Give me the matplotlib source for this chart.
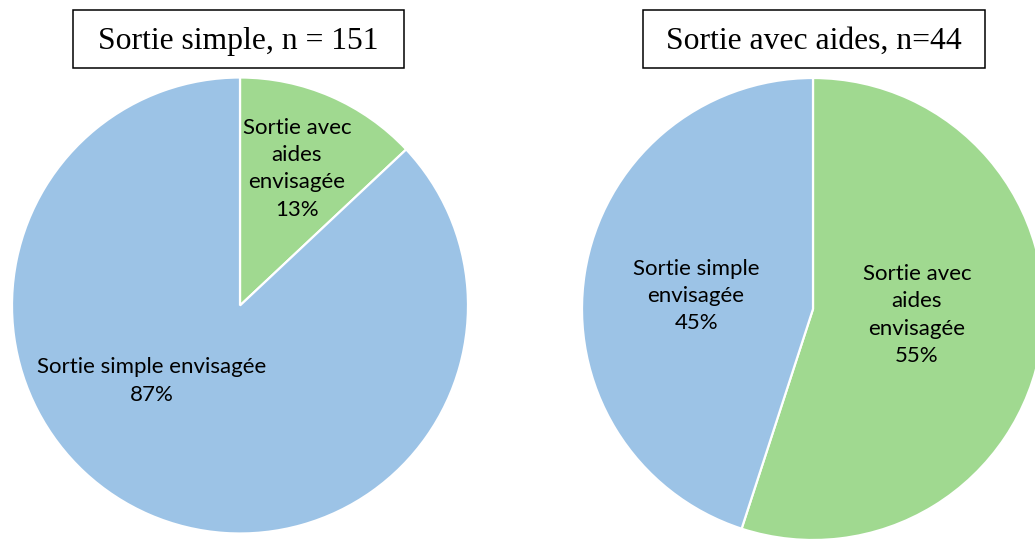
import matplotlib.pyplot as plt
from matplotlib.patches import Rectangle

W, H = 1035, 539

# data
titles = ["Sortie simple, n = 151", "Sortie avec aides, n=44"]
left_labels = ["Sortie avec\naides\nenvisagée", "Sortie simple envisagée"]
left_values = [13, 87]
right_labels = ["Sortie avec\naides\nenvisagée", "Sortie simple\nenvisagée"]
right_values = [55, 45]

green = "#A0D990"
blue = "#9CC3E6"

fig = plt.figure(figsize=(W / 100, H / 100), dpi=100)


def px_axes(cx, cy, r):
    # axes in pixel coords around a pie centre
    return fig.add_axes([(cx - r) / W, (H - cy - r) / H, 2 * r / W, 2 * r / H])


def title_box(cx, x0, x1, text):
    fig.patches.append(Rectangle((x0 / W, (H - 68) / H), (x1 - x0) / W, 58 / H,
                                 transform=fig.transFigure, facecolor="white",
                                 edgecolor="black", linewidth=1.1))
    fig.text(cx / W, (H - 41) / H, text, ha="center", va="center",
             family="Liberation Serif", fontsize=22.8)


def draw_pie(ax, values, labels, label_pos):
    ax.pie(values, colors=[green, blue], startangle=90, counterclock=False,
           radius=1, wedgeprops=dict(edgecolor="white", linewidth=1.6))
    ax.set_xlim(-1, 1)
    ax.set_ylim(-1, 1)
    ax.set_aspect("equal")
    ax.axis("off")
    for v, lab, (x, y) in zip(values, labels, label_pos):
        ax.text(x, y, f"{lab}\n{v}%", ha="center", va="center",
                family="Lato", fontsize=16, linespacing=1.45, color="black")


ax1 = px_axes(240, 305.5, 228)
draw_pie(ax1, left_values, left_labels, [(0.25, 0.60), (-0.386, -0.331)])

ax2 = px_axes(813, 309, 231)
draw_pie(ax2, right_values, right_labels, [(0.45, -0.026), (-0.506, 0.056)])
for ax in (ax1, ax2):
    for p in ax.patches:
        p.set_clip_on(False)

title_box(238.5, 73, 404, titles[0])
title_box(814, 643, 985, titles[1])

fig.savefig("out.png", dpi=100)
